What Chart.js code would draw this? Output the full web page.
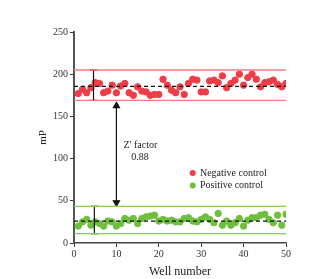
<!DOCTYPE html>
<html>
<head>
<meta charset="utf-8">
<script src="https://cdn.jsdelivr.net/npm/chart.js@4/dist/chart.umd.min.js"></script>
<style>
  html, body { margin: 0; padding: 0; background: #fff; }
  #wrap { width: 320px; height: 279px; }
</style>
</head>
<body>
<div id="wrap"><canvas id="zChart" width="320" height="279"></canvas></div>
<script>
// well numbers 1..50
const wells = [1,2,3,4,5,6,7,8,9,10,11,12,13,14,15,16,17,18,19,20,21,22,23,24,25,
  26,27,28,29,30,31,32,33,34,35,36,37,38,39,40,41,42,43,44,45,46,47,48,49,50];

const negative = [177,182,178,184,190,189,178,180,187,178,186,189,178,175,185,180,179,175,176,176,
  194,187,181,178,185,176,189,194,193,179,179,192,193,190,198,184,189,193,200,187,
  196,200,194,185,190,191,193,188,185,189];

const positive = [20,25,28,21,25,23,20,26,25,20,23,29,27,29,23,29,31,32,33,26,
  28,26,27,25,25,29,30,26,25,28,31,28,24,35,21,26,21,24,29,20,
  27,30,30,33,34,28,24,33,21,34];

// mean and mean ± 3SD bands
const negMean = 185.5, negHigh = 205, negLow = 169;
const posMean = 26, posHigh = 43.5, posLow = 11;
const zFactor = "0.88";

const xTicks = [0, 10, 20, 30, 40, 50];
const yTicks = [0, 50, 100, 150, 200, 250];

const RED = '#ef3d48', RED_LINE = '#f47c7f';
const GREEN = '#6fbf3e', GREEN_LINE = '#80cc55';
const FONT = '"Liberation Serif", "DejaVu Serif", serif';

function hline(y, color, dash) {
  return {
    type: 'line', data: [{x: 0, y: y}, {x: 50, y: y}],
    borderColor: color, borderWidth: 1.3, borderDash: dash || [],
    pointRadius: 0, order: 0
  };
}

function errBar(x, lo, hi) {
  return {
    type: 'line', data: [{x: x, y: lo}, {x: x, y: hi}],
    borderColor: '#111', borderWidth: 1.2,
    pointStyle: 'line', pointRadius: 3.5, pointBorderWidth: 1.2,
    pointBorderColor: '#111', order: 0
  };
}

// text labels placed in data coordinates
const notes = {
  id: 'notes',
  afterDatasetsDraw(chart) {
    const ctx = chart.ctx, xs = chart.scales.x, ys = chart.scales.y;
    ctx.save();
    ctx.fillStyle = '#222';
    ctx.font = '10px ' + FONT;
    ctx.textBaseline = 'middle';
    ctx.textAlign = 'left';
    ctx.fillText("Z' factor", xs.getPixelForValue(11.7), ys.getPixelForValue(116));
    ctx.fillText(zFactor, xs.getPixelForValue(13.5), ys.getPixelForValue(102));
    const items = [['Negative control', RED, 83], ['Positive control', GREEN, 68]];
    items.forEach(([label, col, yv]) => {
      ctx.fillStyle = col;
      ctx.beginPath();
      ctx.arc(xs.getPixelForValue(28), ys.getPixelForValue(yv), 3, 0, Math.PI * 2);
      ctx.fill();
      ctx.fillStyle = '#222';
      ctx.fillText(label, xs.getPixelForValue(29.7), ys.getPixelForValue(yv));
    });
    ctx.restore();
  }
};

const ctx = document.getElementById('zChart').getContext('2d');
new Chart(ctx, {
  data: {
    datasets: [
      hline(negHigh, RED_LINE), hline(negLow, RED_LINE), hline(negMean, '#111', [4, 3]),
      hline(posHigh, GREEN_LINE), hline(posLow, GREEN_LINE), hline(posMean, '#111', [4, 3]),
      errBar(4.6, negLow, negHigh),
      errBar(4.8, posLow, posHigh),
      {
        type: 'line', data: [{x: 10, y: 162.5}, {x: 10, y: 48}],
        borderColor: '#111', borderWidth: 1.2,
        pointStyle: 'triangle', pointRadius: 3.5, pointRotation: [0, 180],
        pointBackgroundColor: '#111', pointBorderColor: '#111', order: 0
      },
      {
        type: 'scatter', label: 'Negative control',
        data: wells.map((w, i) => ({x: w, y: negative[i]})),
        backgroundColor: RED, borderColor: RED, pointRadius: 3.2, order: 1
      },
      {
        type: 'scatter', label: 'Positive control',
        data: wells.map((w, i) => ({x: w, y: positive[i]})),
        backgroundColor: GREEN, borderColor: GREEN, pointRadius: 3.2, order: 1
      }
    ]
  },
  options: {
    responsive: false,
    animation: false,
    layout: { padding: { top: 32, right: 34, left: 37, bottom: 0 } },
    plugins: { legend: { display: false }, tooltip: { enabled: false } },
    scales: {
      x: {
        type: 'linear', min: 0, max: 50,
        afterBuildTicks: s => { s.ticks = xTicks.map(v => ({value: v})); },
        grid: { drawOnChartArea: false, drawTicks: true, tickLength: 4, color: '#333', lineWidth: 1 },
        border: { display: true, color: '#444', width: 1.5 },
        ticks: { color: '#333', font: { family: FONT, size: 10 }, padding: 1, maxRotation: 0 },
        title: { display: true, text: 'Well number', color: '#222', font: { family: FONT, size: 12 }, padding: { top: 2, bottom: 0 } },
        afterFit: s => { s.height = 36; }
      },
      y: {
        type: 'linear', min: 0, max: 250,
        afterBuildTicks: s => { s.ticks = yTicks.map(v => ({value: v})); },
        grid: { drawOnChartArea: false, drawTicks: true, tickLength: 4, color: '#333', lineWidth: 1 },
        border: { display: true, color: '#555', width: 2 },
        ticks: { color: '#333', font: { family: FONT, size: 10 }, padding: 2 },
        title: { display: true, text: 'mP', color: '#222', font: { family: FONT, size: 11 }, padding: { top: 0, bottom: 0 } },
        afterFit: s => { s.width = 37; }
      }
    }
  },
  plugins: [notes]
});
</script>
</body>
</html>
